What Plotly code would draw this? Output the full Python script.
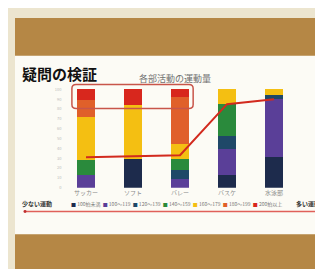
import plotly.graph_objects as go

categories = ["サッカー", "ソフト", "バレー", "バスケ", "水泳部"]
series_names = ["100拍未満", "100〜119", "120〜139", "140〜159", "160〜179", "180〜199", "200拍以上"]
series_colors = ["#1d2b4c", "#5a3f98", "#1f4868", "#2a8a3c", "#f4bf12", "#e0602a", "#d8271d"]
# percent share of each heart-rate band, bottom to top
s1 = [0, 29, 0, 13, 31]
s2 = [13, 0, 9, 26, 59]
s3 = [0, 0, 9, 14, 4]
s4 = [15, 0, 11, 32, 0]
s5 = [44, 55, 15, 15, 6]
s6 = [17, 0, 48, 0, 0]
s7 = [11, 16, 8, 0, 0]
series_values = [s1, s2, s3, s4, s5, s6, s7]
line_values = [31, 32, 33, 85, 90]
y_ticks = [0, 10, 20, 30, 40, 50, 60, 70, 80, 90, 100]

W, H = 323, 269
def px(x):
    return x / W
def py(y):
    return (H - y) / H

FONT = "Noto Sans CJK JP"
fig = go.Figure()
for name, col, vals in zip(series_names, series_colors, series_values):
    fig.add_trace(go.Bar(x=list(range(len(categories))), y=vals, name=name,
                         marker=dict(color=col, line=dict(width=0)), showlegend=False))
fig.add_trace(go.Scatter(x=list(range(len(categories))), y=line_values, mode="lines",
                         line=dict(color="#d22a1e", width=2), showlegend=False))

shapes = [
    dict(type="rect", xref="paper", yref="paper", x0=px(7), x1=1, y0=py(266), y1=py(10),
         fillcolor="#b58745", line=dict(width=0), layer="below"),
    dict(type="rect", xref="paper", yref="paper", x0=px(7), x1=1, y0=py(228), y1=py(48),
         fillcolor="#fcfbf5", line=dict(width=0), layer="below"),
    # bottom arrow line
    dict(type="line", xref="paper", yref="paper", x0=px(17), x1=px(316), y0=py(205), y1=py(205),
         line=dict(color="#e0605a", width=1.5)),
    # arrow head at right end
    dict(type="path", xref="paper", yref="paper",
         path=f"M {px(313.5)},{py(206)} L {px(318.5)},{py(206)} L {px(316)},{py(201.5)} Z",
         fillcolor="#111", line=dict(width=0)),
    # dot at left end
    dict(type="circle", xref="paper", yref="paper", x0=px(15.5), x1=px(18.5), y0=py(206.5), y1=py(203.5),
         fillcolor="#c03030", line=dict(width=0)),
]
# rounded rectangle around the top of first three bars
x0, x1, y0, y1 = -0.30, 2.28, 80.5, 105
rx, ry = 0.09, 4
path = (f"M {x0+rx},{y0} L {x1-rx},{y0} Q {x1},{y0} {x1},{y0+ry} L {x1},{y1-ry} "
        f"Q {x1},{y1} {x1-rx},{y1} L {x0+rx},{y1} Q {x0},{y1} {x0},{y1-ry} "
        f"L {x0},{y0+ry} Q {x0},{y0} {x0+rx},{y0} Z")
shapes.append(dict(type="path", xref="x", yref="y", path=path,
                   line=dict(color="#c8554a", width=1.5)))

legend_text = "&nbsp;&nbsp;".join(
    f"<span style='color:{c}'>■</span> {n}" for n, c in zip(series_names, series_colors))

annotations = [
    dict(text="<b>疑問の検証</b>", xref="paper", yref="paper", x=px(12), y=py(66),
         xanchor="left", yanchor="middle", showarrow=False,
         font=dict(family=FONT, size=15, color="#111")),
    dict(text="各部活動の運動量", xref="paper", yref="paper", x=px(167), y=py(71),
         xanchor="center", yanchor="middle", showarrow=False,
         font=dict(family=FONT, size=9, color="#707070")),
    dict(text=legend_text, xref="paper", yref="paper", x=px(168), y=py(197),
         xanchor="center", yanchor="middle", showarrow=False,
         font=dict(family=FONT, size=5, color="#777")),
    dict(text="<b>少ない運動</b>", xref="paper", yref="paper", x=px(12), y=py(197),
         xanchor="left", yanchor="middle", showarrow=False,
         font=dict(family=FONT, size=6, color="#333")),
    dict(text="<b>多い運動</b>", xref="paper", yref="paper", x=px(314), y=py(197),
         xanchor="right", yanchor="middle", showarrow=False,
         font=dict(family=FONT, size=6, color="#333")),
]

fig.update_layout(
    width=W, height=H, margin=dict(l=0, r=0, t=0, b=0),
    paper_bgcolor="#ece5cf", plot_bgcolor="rgba(0,0,0,0)",
    barmode="stack", bargap=0.6,
    shapes=shapes, annotations=annotations, showlegend=False,
    xaxis=dict(domain=[px(54.5), px(289.5)], range=[-0.5, 4.5],
               tickmode="array", tickvals=list(range(len(categories))), ticktext=categories,
               showgrid=False, zeroline=False, showline=False, ticks="",
               tickfont=dict(family=FONT, size=6, color="#888")),
    yaxis=dict(domain=[py(181), py(75.07)], range=[0, 107],
               tickmode="array", tickvals=y_ticks, ticktext=[str(v) for v in y_ticks],
               showgrid=False, zeroline=False, showline=False, ticks="",
               tickfont=dict(family=FONT, size=4, color="#bbb")),
)
fig.write_html("out.html")
